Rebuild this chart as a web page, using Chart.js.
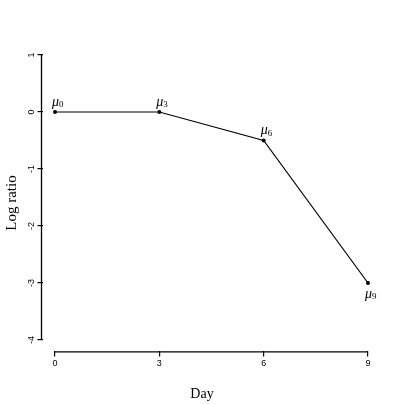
<!DOCTYPE html>
<html>
<head>
<meta charset="utf-8">
<script src="https://cdn.jsdelivr.net/npm/chart.js@4"></script>
<style>
  html, body { margin: 0; padding: 0; background: #fff; }
  #wrap { width: 404px; height: 404px; }
</style>
</head>
<body>
<div id="wrap"><canvas id="logChart" width="404" height="404"></canvas></div>
<script>
// data
var days = [0, 3, 6, 9];
var logRatio = [0, 0, -0.5, -3];
var pointLabels = ['0', '3', '6', '9'];
var xTicks = [0, 3, 6, 9];
var yTicks = [-4, -3, -2, -1, 0, 1];
var xTitle = 'Day';
var yTitle = 'Log ratio';

var serif = '"Liberation Serif", "DejaVu Serif", serif';
var sans = '"Liberation Sans", Arial, sans-serif';

// detached R-style axes, y tick labels, axis titles and the mu labels
var extras = {
    id: 'extras',
    afterDraw: function (chart) {
        var ctx = chart.ctx;
        var xs = chart.scales.x, ys = chart.scales.y;
        var area = chart.chartArea;
        ctx.save();
        ctx.strokeStyle = '#000';
        ctx.lineWidth = 1.3;
        // y axis line from first to last tick
        ctx.beginPath();
        ctx.moveTo(area.left - 1, ys.getPixelForValue(yTicks[0]));
        ctx.lineTo(area.left - 1, ys.getPixelForValue(yTicks[yTicks.length - 1]));
        ctx.stroke();
        // x axis line
        ctx.beginPath();
        ctx.moveTo(xs.getPixelForValue(xTicks[0]), area.bottom + 0.5);
        ctx.lineTo(xs.getPixelForValue(xTicks[xTicks.length - 1]), area.bottom + 0.5);
        ctx.stroke();

        // rotated y tick labels
        ctx.fillStyle = '#000';
        ctx.font = '9px ' + sans;
        ctx.textAlign = 'center';
        ctx.textBaseline = 'middle';
        yTicks.forEach(function (v) {
            var y = ys.getPixelForValue(v);
            ctx.save();
            ctx.translate(area.left - 11, y);
            ctx.rotate(-Math.PI / 2);
            ctx.fillText(String(v), 0, 0);
            ctx.restore();
        });

        // axis titles, centred on the page like the reference
        ctx.font = '14px ' + serif;
        ctx.fillText(xTitle, chart.width / 2, 394);
        ctx.save();
        ctx.font = '15px ' + serif;
        ctx.translate(12, 203);
        ctx.rotate(-Math.PI / 2);
        ctx.fillText(yTitle, 0, 0);
        ctx.restore();

        // mu labels
        var meta = chart.getDatasetMeta(0);
        meta.data.forEach(function (pt, i) {
            var below = i === meta.data.length - 1;
            var lx = pt.x - 3;
            var ly = below ? pt.y + 11 : pt.y - 10;
            ctx.textAlign = 'left';
            ctx.textBaseline = 'middle';
            ctx.font = 'italic 14px ' + serif;
            ctx.fillText('\u03bc', lx, ly);
            var w = ctx.measureText('\u03bc').width;
            ctx.font = '9px ' + serif;
            ctx.fillText(pointLabels[i], lx + w, ly + 3);
        });
        ctx.restore();
    }
};

var ctx = document.getElementById('logChart').getContext('2d');
var logChart = new Chart(ctx, {
    type: 'line',
    data: {
        datasets: [{
            data: days.map(function (d, i) { return { x: d, y: logRatio[i] }; }),
            borderColor: '#000',
            backgroundColor: '#000',
            borderWidth: 1.2,
            pointRadius: 2,
            pointBorderWidth: 0,
            tension: 0,
            fill: false
        }]
    },
    options: {
        responsive: false,
        animation: false,
        events: [],
        layout: { padding: { top: 43.6, right: 23.5, bottom: 0, left: 0 } },
        plugins: { legend: { display: false }, tooltip: { enabled: false } },
        scales: {
            x: {
                type: 'linear',
                min: -0.36,
                max: 9.36,
                afterBuildTicks: function (scale) {
                    scale.ticks = xTicks.map(function (v) { return { value: v }; });
                },
                afterFit: function (scale) { scale.height = 52.6; },
                border: { display: false },
                grid: { drawOnChartArea: false, drawTicks: true, tickLength: 5, color: '#000', lineWidth: 1.2 },
                ticks: { color: '#000', font: { family: sans, size: 9 }, padding: 2, maxRotation: 0 },
                title: { display: false }
            },
            y: {
                type: 'linear',
                min: -4.2,
                max: 1.2,
                afterBuildTicks: function (scale) {
                    scale.ticks = yTicks.map(function (v) { return { value: v }; });
                },
                afterFit: function (scale) { scale.width = 42.5; },
                border: { display: false },
                grid: { drawOnChartArea: false, drawTicks: true, tickLength: 5, color: '#000', lineWidth: 1.2 },
                ticks: { display: false },
                title: { display: false }
            }
        }
    },
    plugins: [extras]
});
</script>
</body>
</html>
